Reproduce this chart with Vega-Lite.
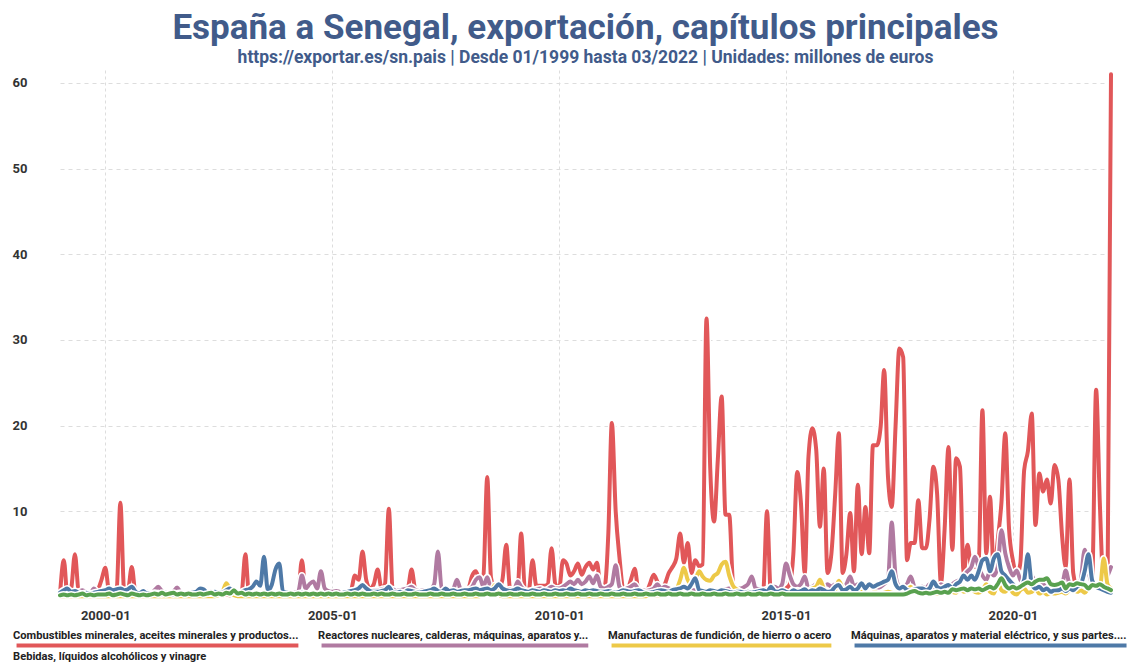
{
"$schema": "https://vega.github.io/schema/vega-lite/v6.json",
"width": 1051,
"height": 527,
"autosize": {"type": "none"},
"padding": {"left": 60, "top": 70, "right": 23, "bottom": 65},
"background": "white",
"title": {
  "text": "España a Senegal, exportación, capítulos principales",
  "subtitle": "https://exportar.es/sn.pais | Desde 01/1999 hasta 03/2022 | Unidades: millones de euros",
  "anchor": "middle",
  "frame": "group",
  "font": "Roboto",
  "fontSize": 35,
  "fontWeight": "bold",
  "color": "#415b8a",
  "subtitleFont": "Roboto",
  "subtitleFontSize": 17.5,
  "subtitleFontWeight": "bold",
  "subtitleColor": "#415b8a",
  "subtitlePadding": 3,
  "offset": 4
},
"data": {"values": [
{"d":"1999-01","r":0.3,"p":0.3,"y":0.1,"b":0.5,"g":0.2},
{"d":"1999-02","r":4.3,"p":0.5,"y":0.1,"b":0.8,"g":0.3},
{"d":"1999-03","r":0.3,"p":0.4,"y":0.1,"b":1.0,"g":0.2},
{"d":"1999-04","r":1.0,"p":0.3,"y":0.1,"b":0.6,"g":0.3},
{"d":"1999-05","r":5.0,"p":0.4,"y":0.1,"b":0.7,"g":0.2},
{"d":"1999-06","r":0.5,"p":0.6,"y":0.1,"b":0.5,"g":0.3},
{"d":"1999-07","r":0.2,"p":0.8,"y":0.1,"b":0.4,"g":0.4},
{"d":"1999-08","r":0.2,"p":0.5,"y":0.1,"b":0.5,"g":0.2},
{"d":"1999-09","r":0.3,"p":0.4,"y":0.1,"b":0.4,"g":0.3},
{"d":"1999-10","r":0.3,"p":1.0,"y":0.1,"b":0.5,"g":0.2},
{"d":"1999-11","r":0.8,"p":0.5,"y":0.1,"b":0.6,"g":0.3},
{"d":"1999-12","r":2.0,"p":0.4,"y":0.1,"b":0.7,"g":0.3},
{"d":"2000-01","r":3.4,"p":0.5,"y":0.1,"b":0.8,"g":0.3},
{"d":"2000-02","r":0.5,"p":0.6,"y":0.1,"b":1.0,"g":0.4},
{"d":"2000-03","r":0.3,"p":0.8,"y":0.1,"b":0.8,"g":0.2},
{"d":"2000-04","r":0.8,"p":0.7,"y":0.1,"b":0.9,"g":0.3},
{"d":"2000-05","r":11.0,"p":0.6,"y":0.1,"b":1.0,"g":0.4},
{"d":"2000-06","r":0.6,"p":0.8,"y":0.1,"b":0.8,"g":0.3},
{"d":"2000-07","r":0.8,"p":0.7,"y":0.1,"b":0.9,"g":0.2},
{"d":"2000-08","r":3.5,"p":0.9,"y":0.1,"b":1.2,"g":0.4},
{"d":"2000-09","r":0.3,"p":0.6,"y":0.1,"b":0.6,"g":0.3},
{"d":"2000-10","r":0.2,"p":0.5,"y":0.1,"b":0.4,"g":0.2},
{"d":"2000-11","r":0.2,"p":0.4,"y":0.1,"b":0.7,"g":0.3},
{"d":"2000-12","r":0.2,"p":0.6,"y":0.1,"b":0.4,"g":0.2},
{"d":"2001-01","r":0.2,"p":0.5,"y":0.1,"b":0.4,"g":0.3},
{"d":"2001-02","r":0.3,"p":0.8,"y":0.1,"b":0.5,"g":0.4},
{"d":"2001-03","r":0.2,"p":1.2,"y":0.1,"b":0.4,"g":0.3},
{"d":"2001-04","r":0.2,"p":0.7,"y":0.1,"b":0.3,"g":0.5},
{"d":"2001-05","r":0.3,"p":0.5,"y":0.1,"b":0.5,"g":0.3},
{"d":"2001-06","r":0.2,"p":0.4,"y":0.1,"b":0.4,"g":0.4},
{"d":"2001-07","r":0.2,"p":0.6,"y":0.1,"b":0.3,"g":0.5},
{"d":"2001-08","r":0.3,"p":1.1,"y":0.1,"b":0.4,"g":0.3},
{"d":"2001-09","r":0.2,"p":0.5,"y":0.1,"b":0.5,"g":0.4},
{"d":"2001-10","r":0.2,"p":0.4,"y":0.1,"b":0.3,"g":0.3},
{"d":"2001-11","r":0.3,"p":0.5,"y":0.1,"b":0.4,"g":0.4},
{"d":"2001-12","r":0.2,"p":0.6,"y":0.1,"b":0.5,"g":0.3},
{"d":"2002-01","r":0.2,"p":0.4,"y":0.1,"b":0.6,"g":0.3},
{"d":"2002-02","r":0.2,"p":0.5,"y":0.1,"b":1.0,"g":0.4},
{"d":"2002-03","r":0.3,"p":0.4,"y":0.1,"b":0.9,"g":0.3},
{"d":"2002-04","r":0.2,"p":0.5,"y":0.1,"b":0.5,"g":0.4},
{"d":"2002-05","r":0.2,"p":0.6,"y":0.1,"b":0.4,"g":0.5},
{"d":"2002-06","r":0.3,"p":0.5,"y":0.1,"b":0.6,"g":0.3},
{"d":"2002-07","r":0.2,"p":0.4,"y":0.2,"b":0.5,"g":0.4},
{"d":"2002-08","r":0.2,"p":0.5,"y":0.6,"b":0.5,"g":0.3},
{"d":"2002-09","r":0.3,"p":0.7,"y":1.6,"b":0.8,"g":0.5},
{"d":"2002-10","r":0.2,"p":0.5,"y":0.8,"b":1.0,"g":0.4},
{"d":"2002-11","r":0.3,"p":0.4,"y":0.2,"b":0.6,"g":0.8},
{"d":"2002-12","r":0.5,"p":0.5,"y":0.1,"b":0.5,"g":0.4},
{"d":"2003-01","r":0.5,"p":0.4,"y":0.1,"b":0.6,"g":0.5},
{"d":"2003-02","r":5.0,"p":0.5,"y":0.1,"b":0.8,"g":0.3},
{"d":"2003-03","r":0.5,"p":0.5,"y":0.1,"b":0.9,"g":0.4},
{"d":"2003-04","r":0.3,"p":0.4,"y":0.1,"b":1.2,"g":0.3},
{"d":"2003-05","r":0.2,"p":0.3,"y":0.1,"b":1.8,"g":0.4},
{"d":"2003-06","r":0.2,"p":0.4,"y":0.1,"b":1.3,"g":0.3},
{"d":"2003-07","r":0.2,"p":0.3,"y":0.1,"b":4.7,"g":0.4},
{"d":"2003-08","r":0.2,"p":0.4,"y":0.1,"b":0.8,"g":0.3},
{"d":"2003-09","r":0.2,"p":0.3,"y":0.1,"b":1.4,"g":0.4},
{"d":"2003-10","r":0.2,"p":0.4,"y":0.1,"b":3.2,"g":0.3},
{"d":"2003-11","r":0.2,"p":0.3,"y":0.1,"b":3.9,"g":0.4},
{"d":"2003-12","r":0.3,"p":0.4,"y":0.1,"b":0.6,"g":0.3},
{"d":"2004-01","r":0.3,"p":0.5,"y":0.1,"b":0.5,"g":0.3},
{"d":"2004-02","r":0.3,"p":0.4,"y":0.1,"b":0.4,"g":0.4},
{"d":"2004-03","r":0.3,"p":0.5,"y":0.1,"b":0.3,"g":0.3},
{"d":"2004-04","r":0.5,"p":0.6,"y":0.1,"b":0.4,"g":0.4},
{"d":"2004-05","r":4.3,"p":2.5,"y":0.1,"b":0.5,"g":0.3},
{"d":"2004-06","r":0.5,"p":1.0,"y":0.1,"b":0.4,"g":0.4},
{"d":"2004-07","r":0.3,"p":1.5,"y":0.1,"b":0.3,"g":0.3},
{"d":"2004-08","r":0.3,"p":1.8,"y":0.1,"b":0.4,"g":0.4},
{"d":"2004-09","r":0.3,"p":1.0,"y":0.1,"b":0.3,"g":0.3},
{"d":"2004-10","r":0.3,"p":3.0,"y":0.1,"b":0.4,"g":0.4},
{"d":"2004-11","r":0.3,"p":1.0,"y":0.1,"b":0.3,"g":0.3},
{"d":"2004-12","r":0.3,"p":0.7,"y":0.1,"b":0.4,"g":0.4},
{"d":"2005-01","r":0.3,"p":0.6,"y":0.1,"b":0.3,"g":0.3},
{"d":"2005-02","r":0.3,"p":0.7,"y":0.1,"b":0.4,"g":0.4},
{"d":"2005-03","r":0.3,"p":0.6,"y":0.1,"b":0.3,"g":0.3},
{"d":"2005-04","r":0.3,"p":0.5,"y":0.1,"b":0.5,"g":0.3},
{"d":"2005-05","r":0.5,"p":0.6,"y":0.1,"b":0.6,"g":0.4},
{"d":"2005-06","r":0.8,"p":0.7,"y":0.1,"b":0.7,"g":0.3},
{"d":"2005-07","r":2.5,"p":0.8,"y":0.1,"b":0.8,"g":0.4},
{"d":"2005-08","r":2.0,"p":0.9,"y":0.1,"b":1.0,"g":0.3},
{"d":"2005-09","r":5.3,"p":1.0,"y":0.1,"b":1.4,"g":0.4},
{"d":"2005-10","r":2.0,"p":0.8,"y":0.1,"b":1.0,"g":0.3},
{"d":"2005-11","r":1.0,"p":0.7,"y":0.1,"b":0.7,"g":0.3},
{"d":"2005-12","r":1.5,"p":0.8,"y":0.1,"b":0.6,"g":0.4},
{"d":"2006-01","r":3.2,"p":0.8,"y":0.1,"b":0.6,"g":0.3},
{"d":"2006-02","r":1.0,"p":0.9,"y":0.1,"b":0.7,"g":0.4},
{"d":"2006-03","r":1.5,"p":1.0,"y":0.1,"b":0.8,"g":0.3},
{"d":"2006-04","r":10.3,"p":0.8,"y":0.1,"b":1.2,"g":0.3},
{"d":"2006-05","r":1.0,"p":0.9,"y":0.1,"b":0.6,"g":0.4},
{"d":"2006-06","r":0.5,"p":0.7,"y":0.1,"b":0.5,"g":0.3},
{"d":"2006-07","r":0.5,"p":0.8,"y":0.1,"b":0.6,"g":0.3},
{"d":"2006-08","r":0.5,"p":0.9,"y":0.1,"b":0.5,"g":0.4},
{"d":"2006-09","r":1.0,"p":1.0,"y":0.1,"b":0.8,"g":0.3},
{"d":"2006-10","r":3.2,"p":1.2,"y":0.1,"b":0.7,"g":0.3},
{"d":"2006-11","r":0.8,"p":0.8,"y":0.1,"b":0.6,"g":0.4},
{"d":"2006-12","r":0.5,"p":0.7,"y":0.1,"b":0.5,"g":0.3},
{"d":"2007-01","r":0.5,"p":0.8,"y":0.1,"b":0.6,"g":0.3},
{"d":"2007-02","r":0.5,"p":0.7,"y":0.1,"b":0.7,"g":0.3},
{"d":"2007-03","r":0.6,"p":0.9,"y":0.1,"b":0.8,"g":0.4},
{"d":"2007-04","r":0.8,"p":1.5,"y":0.1,"b":1.0,"g":0.3},
{"d":"2007-05","r":0.7,"p":5.3,"y":0.1,"b":0.7,"g":0.3},
{"d":"2007-06","r":0.6,"p":1.0,"y":0.1,"b":0.6,"g":0.4},
{"d":"2007-07","r":0.5,"p":0.8,"y":0.1,"b":1.0,"g":0.3},
{"d":"2007-08","r":0.6,"p":0.7,"y":0.1,"b":0.7,"g":0.3},
{"d":"2007-09","r":0.8,"p":0.9,"y":0.1,"b":0.8,"g":0.4},
{"d":"2007-10","r":0.7,"p":2.0,"y":0.1,"b":0.6,"g":0.3},
{"d":"2007-11","r":0.6,"p":0.9,"y":0.1,"b":0.7,"g":0.3},
{"d":"2007-12","r":0.7,"p":0.8,"y":0.1,"b":0.8,"g":0.4},
{"d":"2008-01","r":1.0,"p":0.9,"y":0.1,"b":0.8,"g":0.3},
{"d":"2008-02","r":2.5,"p":1.2,"y":0.1,"b":0.9,"g":0.3},
{"d":"2008-03","r":3.0,"p":2.0,"y":0.1,"b":1.0,"g":0.4},
{"d":"2008-04","r":2.0,"p":2.3,"y":0.1,"b":0.8,"g":0.3},
{"d":"2008-05","r":2.5,"p":1.2,"y":0.2,"b":0.9,"g":0.3},
{"d":"2008-06","r":14.0,"p":2.3,"y":0.5,"b":1.0,"g":0.4},
{"d":"2008-07","r":2.3,"p":1.0,"y":0.6,"b":0.8,"g":0.3},
{"d":"2008-08","r":1.0,"p":0.8,"y":1.4,"b":1.0,"g":0.3},
{"d":"2008-09","r":1.0,"p":0.9,"y":0.3,"b":1.5,"g":0.4},
{"d":"2008-10","r":2.0,"p":1.0,"y":0.1,"b":1.0,"g":0.3},
{"d":"2008-11","r":6.1,"p":0.8,"y":0.1,"b":0.8,"g":0.3},
{"d":"2008-12","r":1.0,"p":0.9,"y":0.1,"b":0.7,"g":0.4},
{"d":"2009-01","r":0.5,"p":0.8,"y":0.1,"b":0.8,"g":0.3},
{"d":"2009-02","r":1.0,"p":1.8,"y":0.1,"b":1.0,"g":0.3},
{"d":"2009-03","r":7.4,"p":1.2,"y":0.1,"b":0.8,"g":0.4},
{"d":"2009-04","r":1.0,"p":0.8,"y":0.1,"b":0.7,"g":0.3},
{"d":"2009-05","r":0.8,"p":0.7,"y":0.1,"b":0.6,"g":0.3},
{"d":"2009-06","r":4.3,"p":0.8,"y":0.1,"b":0.8,"g":0.4},
{"d":"2009-07","r":1.3,"p":0.9,"y":0.1,"b":0.7,"g":0.3},
{"d":"2009-08","r":1.3,"p":1.0,"y":0.1,"b":0.6,"g":0.3},
{"d":"2009-09","r":1.3,"p":0.8,"y":0.1,"b":0.8,"g":0.4},
{"d":"2009-10","r":1.5,"p":0.9,"y":0.1,"b":0.7,"g":0.3},
{"d":"2009-11","r":5.7,"p":1.2,"y":0.1,"b":0.6,"g":0.3},
{"d":"2009-12","r":1.5,"p":1.0,"y":0.1,"b":0.8,"g":0.4},
{"d":"2010-01","r":1.0,"p":1.0,"y":0.1,"b":0.7,"g":0.3},
{"d":"2010-02","r":4.3,"p":1.2,"y":0.1,"b":0.8,"g":0.3},
{"d":"2010-03","r":3.9,"p":1.5,"y":0.1,"b":0.7,"g":0.4},
{"d":"2010-04","r":2.5,"p":1.8,"y":0.1,"b":1.0,"g":0.3},
{"d":"2010-05","r":3.0,"p":1.5,"y":0.1,"b":0.8,"g":0.3},
{"d":"2010-06","r":3.9,"p":2.0,"y":0.1,"b":0.7,"g":0.4},
{"d":"2010-07","r":2.6,"p":1.5,"y":0.1,"b":0.6,"g":0.3},
{"d":"2010-08","r":3.5,"p":1.8,"y":0.1,"b":0.8,"g":0.3},
{"d":"2010-09","r":4.0,"p":2.4,"y":0.1,"b":0.7,"g":0.4},
{"d":"2010-10","r":3.2,"p":1.6,"y":0.1,"b":0.8,"g":0.3},
{"d":"2010-11","r":4.0,"p":2.5,"y":0.1,"b":0.7,"g":0.3},
{"d":"2010-12","r":1.2,"p":1.2,"y":0.1,"b":0.6,"g":0.4},
{"d":"2011-01","r":1.2,"p":1.0,"y":0.1,"b":0.6,"g":0.3},
{"d":"2011-02","r":7.5,"p":1.2,"y":0.1,"b":0.7,"g":0.3},
{"d":"2011-03","r":20.3,"p":1.5,"y":0.1,"b":0.6,"g":0.4},
{"d":"2011-04","r":10.0,"p":3.7,"y":0.1,"b":0.5,"g":0.3},
{"d":"2011-05","r":4.7,"p":1.2,"y":0.1,"b":0.6,"g":0.3},
{"d":"2011-06","r":1.0,"p":0.8,"y":0.1,"b":0.8,"g":0.4},
{"d":"2011-07","r":0.8,"p":1.0,"y":0.1,"b":0.7,"g":0.3},
{"d":"2011-08","r":2.0,"p":1.2,"y":0.1,"b":0.6,"g":0.3},
{"d":"2011-09","r":3.3,"p":1.5,"y":0.1,"b":0.7,"g":0.4},
{"d":"2011-10","r":0.8,"p":0.9,"y":0.1,"b":0.8,"g":0.3},
{"d":"2011-11","r":0.5,"p":0.8,"y":0.1,"b":0.6,"g":0.3},
{"d":"2011-12","r":0.5,"p":0.7,"y":0.1,"b":0.5,"g":0.4},
{"d":"2012-01","r":1.5,"p":0.8,"y":0.3,"b":0.5,"g":0.3},
{"d":"2012-02","r":2.6,"p":1.0,"y":0.2,"b":0.6,"g":0.3},
{"d":"2012-03","r":1.8,"p":1.5,"y":0.2,"b":0.7,"g":0.4},
{"d":"2012-04","r":0.8,"p":1.0,"y":0.2,"b":0.8,"g":0.3},
{"d":"2012-05","r":1.5,"p":1.2,"y":0.3,"b":0.7,"g":0.3},
{"d":"2012-06","r":2.8,"p":1.0,"y":0.3,"b":0.6,"g":0.4},
{"d":"2012-07","r":3.5,"p":0.8,"y":0.4,"b":0.8,"g":0.3},
{"d":"2012-08","r":4.5,"p":0.9,"y":0.8,"b":0.9,"g":0.3},
{"d":"2012-09","r":7.4,"p":1.0,"y":2.0,"b":1.0,"g":0.4},
{"d":"2012-10","r":4.0,"p":1.2,"y":3.4,"b":1.2,"g":0.3},
{"d":"2012-11","r":6.3,"p":1.0,"y":2.0,"b":1.0,"g":0.3},
{"d":"2012-12","r":2.8,"p":0.8,"y":1.5,"b":1.5,"g":0.4},
{"d":"2013-01","r":4.3,"p":0.8,"y":2.0,"b":2.2,"g":0.3},
{"d":"2013-02","r":3.6,"p":0.9,"y":3.0,"b":0.8,"g":0.3},
{"d":"2013-03","r":3.8,"p":0.8,"y":2.4,"b":0.7,"g":0.4},
{"d":"2013-04","r":32.5,"p":0.7,"y":2.0,"b":0.6,"g":0.3},
{"d":"2013-05","r":15.0,"p":0.9,"y":1.9,"b":0.8,"g":0.3},
{"d":"2013-06","r":8.8,"p":0.8,"y":2.5,"b":0.7,"g":0.4},
{"d":"2013-07","r":16.0,"p":0.7,"y":2.8,"b":0.6,"g":0.3},
{"d":"2013-08","r":23.4,"p":0.8,"y":3.8,"b":0.8,"g":0.3},
{"d":"2013-09","r":9.6,"p":0.9,"y":4.1,"b":0.7,"g":0.4},
{"d":"2013-10","r":9.6,"p":1.0,"y":2.5,"b":0.6,"g":0.3},
{"d":"2013-11","r":1.6,"p":1.2,"y":1.3,"b":0.5,"g":0.3},
{"d":"2013-12","r":0.8,"p":1.0,"y":0.9,"b":0.6,"g":0.4},
{"d":"2014-01","r":0.6,"p":1.0,"y":0.6,"b":0.6,"g":0.3},
{"d":"2014-02","r":0.6,"p":1.2,"y":0.5,"b":0.5,"g":0.3},
{"d":"2014-03","r":0.5,"p":1.5,"y":0.4,"b":0.6,"g":0.4},
{"d":"2014-04","r":0.5,"p":2.4,"y":0.3,"b":0.5,"g":0.3},
{"d":"2014-05","r":0.5,"p":1.0,"y":0.3,"b":0.6,"g":0.3},
{"d":"2014-06","r":0.5,"p":0.9,"y":0.4,"b":0.7,"g":0.4},
{"d":"2014-07","r":0.6,"p":0.8,"y":0.5,"b":0.8,"g":0.3},
{"d":"2014-08","r":10.0,"p":0.9,"y":0.4,"b":0.6,"g":0.3},
{"d":"2014-09","r":0.5,"p":1.0,"y":0.3,"b":1.2,"g":0.4},
{"d":"2014-10","r":0.5,"p":1.2,"y":0.4,"b":0.7,"g":0.3},
{"d":"2014-11","r":0.6,"p":1.0,"y":0.3,"b":0.6,"g":0.3},
{"d":"2014-12","r":0.7,"p":1.5,"y":0.4,"b":0.8,"g":0.4},
{"d":"2015-01","r":1.0,"p":3.9,"y":0.5,"b":0.6,"g":0.3},
{"d":"2015-02","r":1.5,"p":2.5,"y":0.4,"b":0.5,"g":0.3},
{"d":"2015-03","r":5.0,"p":1.5,"y":0.5,"b":0.8,"g":0.3},
{"d":"2015-04","r":14.6,"p":1.2,"y":0.8,"b":0.6,"g":0.3},
{"d":"2015-05","r":11.0,"p":1.5,"y":0.6,"b":0.7,"g":0.3},
{"d":"2015-06","r":2.8,"p":2.4,"y":0.5,"b":0.9,"g":0.3},
{"d":"2015-07","r":16.4,"p":1.0,"y":0.7,"b":0.6,"g":0.3},
{"d":"2015-08","r":19.7,"p":1.2,"y":1.0,"b":0.8,"g":0.3},
{"d":"2015-09","r":17.2,"p":1.5,"y":1.2,"b":0.7,"g":0.3},
{"d":"2015-10","r":8.2,"p":1.8,"y":2.0,"b":1.0,"g":0.3},
{"d":"2015-11","r":15.0,"p":1.2,"y":1.0,"b":0.8,"g":0.3},
{"d":"2015-12","r":2.8,"p":1.5,"y":0.6,"b":0.6,"g":0.3},
{"d":"2016-01","r":5.0,"p":1.2,"y":0.5,"b":0.7,"g":0.3},
{"d":"2016-02","r":12.0,"p":1.5,"y":0.8,"b":1.2,"g":0.3},
{"d":"2016-03","r":19.1,"p":1.2,"y":1.9,"b":1.4,"g":0.3},
{"d":"2016-04","r":2.8,"p":1.0,"y":1.0,"b":0.8,"g":0.3},
{"d":"2016-05","r":5.0,"p":1.5,"y":0.5,"b":0.9,"g":0.3},
{"d":"2016-06","r":9.8,"p":2.4,"y":0.6,"b":1.2,"g":0.3},
{"d":"2016-07","r":3.0,"p":1.2,"y":0.4,"b":0.8,"g":0.3},
{"d":"2016-08","r":13.1,"p":1.5,"y":0.5,"b":1.0,"g":0.3},
{"d":"2016-09","r":5.0,"p":1.0,"y":0.6,"b":1.6,"g":0.3},
{"d":"2016-10","r":10.5,"p":1.2,"y":0.5,"b":1.0,"g":0.3},
{"d":"2016-11","r":5.1,"p":1.5,"y":0.4,"b":1.5,"g":0.3},
{"d":"2016-12","r":17.7,"p":1.2,"y":0.5,"b":1.2,"g":0.3},
{"d":"2017-01","r":17.7,"p":1.0,"y":0.5,"b":1.4,"g":0.3},
{"d":"2017-02","r":19.9,"p":1.2,"y":0.4,"b":1.6,"g":0.3},
{"d":"2017-03","r":26.5,"p":1.5,"y":0.5,"b":1.8,"g":0.3},
{"d":"2017-04","r":14.0,"p":2.0,"y":0.6,"b":2.0,"g":0.3},
{"d":"2017-05","r":10.5,"p":8.7,"y":0.5,"b":3.0,"g":0.3},
{"d":"2017-06","r":20.0,"p":2.5,"y":0.4,"b":1.5,"g":0.3},
{"d":"2017-07","r":29.0,"p":1.2,"y":0.5,"b":1.0,"g":0.3},
{"d":"2017-08","r":28.0,"p":1.0,"y":0.6,"b":1.2,"g":0.3},
{"d":"2017-09","r":4.3,"p":1.5,"y":0.8,"b":0.8,"g":0.4},
{"d":"2017-10","r":6.3,"p":2.4,"y":1.2,"b":0.7,"g":0.6},
{"d":"2017-11","r":6.3,"p":1.2,"y":0.6,"b":0.9,"g":0.7},
{"d":"2017-12","r":11.3,"p":1.0,"y":0.5,"b":1.0,"g":0.5},
{"d":"2018-01","r":5.7,"p":1.2,"y":0.6,"b":1.0,"g":0.4},
{"d":"2018-02","r":5.7,"p":1.0,"y":0.5,"b":0.8,"g":0.5},
{"d":"2018-03","r":9.0,"p":1.5,"y":0.6,"b":1.0,"g":0.4},
{"d":"2018-04","r":15.2,"p":1.2,"y":0.5,"b":1.8,"g":0.5},
{"d":"2018-05","r":12.1,"p":1.0,"y":0.4,"b":1.2,"g":0.6},
{"d":"2018-06","r":1.6,"p":1.5,"y":0.6,"b":1.0,"g":0.5},
{"d":"2018-07","r":8.0,"p":1.2,"y":0.5,"b":1.2,"g":0.6},
{"d":"2018-08","r":17.5,"p":1.0,"y":1.0,"b":1.4,"g":0.5},
{"d":"2018-09","r":5.5,"p":1.5,"y":0.6,"b":1.0,"g":0.9},
{"d":"2018-10","r":16.2,"p":1.8,"y":0.5,"b":1.5,"g":0.8},
{"d":"2018-11","r":15.2,"p":2.0,"y":1.2,"b":1.8,"g":0.9},
{"d":"2018-12","r":2.8,"p":2.5,"y":0.6,"b":2.5,"g":1.0},
{"d":"2019-01","r":6.1,"p":3.0,"y":0.8,"b":2.0,"g":0.8},
{"d":"2019-02","r":3.5,"p":3.5,"y":1.0,"b":2.5,"g":1.0},
{"d":"2019-03","r":3.5,"p":4.7,"y":0.6,"b":2.0,"g":0.9},
{"d":"2019-04","r":4.0,"p":3.5,"y":0.5,"b":3.0,"g":1.0},
{"d":"2019-05","r":21.8,"p":2.5,"y":0.8,"b":4.3,"g":0.8},
{"d":"2019-06","r":5.1,"p":2.0,"y":1.5,"b":4.5,"g":1.0},
{"d":"2019-07","r":11.7,"p":3.0,"y":0.6,"b":3.0,"g":1.2},
{"d":"2019-08","r":2.8,"p":2.5,"y":0.4,"b":4.5,"g":1.0},
{"d":"2019-09","r":6.6,"p":3.5,"y":1.7,"b":5.0,"g":1.5},
{"d":"2019-10","r":11.0,"p":7.8,"y":0.8,"b":3.0,"g":2.2},
{"d":"2019-11","r":19.1,"p":5.1,"y":0.6,"b":2.5,"g":1.4},
{"d":"2019-12","r":8.0,"p":3.5,"y":1.2,"b":2.0,"g":1.0},
{"d":"2020-01","r":4.3,"p":2.5,"y":0.5,"b":1.5,"g":1.2},
{"d":"2020-02","r":2.5,"p":3.1,"y":0.3,"b":1.0,"g":1.0},
{"d":"2020-03","r":3.9,"p":2.0,"y":0.8,"b":1.2,"g":1.2},
{"d":"2020-04","r":14.8,"p":1.5,"y":1.0,"b":2.0,"g":1.5},
{"d":"2020-05","r":17.0,"p":2.0,"y":0.5,"b":5.0,"g":1.7},
{"d":"2020-06","r":21.4,"p":2.5,"y":0.6,"b":1.5,"g":1.5},
{"d":"2020-07","r":8.4,"p":1.5,"y":1.0,"b":1.0,"g":1.8},
{"d":"2020-08","r":14.4,"p":1.2,"y":0.4,"b":1.2,"g":2.0},
{"d":"2020-09","r":12.3,"p":1.5,"y":0.6,"b":0.8,"g":2.0},
{"d":"2020-10","r":13.7,"p":1.0,"y":0.3,"b":1.0,"g":2.2},
{"d":"2020-11","r":10.9,"p":1.2,"y":0.5,"b":0.6,"g":1.5},
{"d":"2020-12","r":15.4,"p":1.5,"y":0.4,"b":0.8,"g":1.4},
{"d":"2021-01","r":13.7,"p":1.2,"y":0.5,"b":0.8,"g":1.5},
{"d":"2021-02","r":7.0,"p":1.5,"y":0.6,"b":1.0,"g":1.7},
{"d":"2021-03","r":3.5,"p":3.1,"y":0.4,"b":0.7,"g":1.0},
{"d":"2021-04","r":13.7,"p":1.5,"y":0.8,"b":1.0,"g":1.5},
{"d":"2021-05","r":2.8,"p":1.2,"y":1.0,"b":0.8,"g":1.4},
{"d":"2021-06","r":1.2,"p":1.0,"y":0.6,"b":1.2,"g":1.6},
{"d":"2021-07","r":1.2,"p":2.0,"y":0.8,"b":1.5,"g":1.5},
{"d":"2021-08","r":1.2,"p":5.5,"y":0.5,"b":3.0,"g":1.4},
{"d":"2021-09","r":1.0,"p":3.0,"y":1.0,"b":5.0,"g":1.0},
{"d":"2021-10","r":2.0,"p":1.5,"y":1.5,"b":1.9,"g":1.4},
{"d":"2021-11","r":24.2,"p":1.2,"y":1.2,"b":1.2,"g":1.3},
{"d":"2021-12","r":11.0,"p":1.5,"y":1.0,"b":1.0,"g":1.5},
{"d":"2022-01","r":1.0,"p":2.0,"y":4.5,"b":0.8,"g":1.2},
{"d":"2022-02","r":0.5,"p":2.5,"y":1.5,"b":0.6,"g":1.0},
{"d":"2022-03","r":61.0,"p":3.5,"y":1.0,"b":0.5,"g":0.8}
]},
"transform": [{"fold": ["r", "p", "y", "b", "g"], "as": ["s", "v"]}],
"encoding": {
  "x": {
    "field": "d", "type": "temporal",
    "scale": {"type": "utc"},
    "axis": {
      "title": null, "format": "%Y-%m", "tickCount": {"interval": "year", "step": 5},
      "domain": false, "ticks": false, "tickSize": 0, "labelPadding": 12,
      "labelFont": "Roboto", "labelFontSize": 13, "labelFontWeight": "bold", "labelColor": "#333333",
      "grid": true, "gridDash": [3, 3], "gridColor": "#dddddd", "gridWidth": 1
    }
  },
  "y": {
    "field": "v", "type": "quantitative",
    "scale": {"domain": [0, 61.5], "nice": false},
    "axis": {
      "title": null, "values": [10, 20, 30, 40, 50, 60],
      "domain": false, "ticks": false, "tickSize": 0, "labelPadding": 48, "labelAlign": "left",
      "labelFont": "Roboto", "labelFontSize": 13, "labelFontWeight": "bold", "labelColor": "#333333",
      "grid": true, "gridDash": [4, 4], "gridColor": "#dddddd", "gridWidth": 1
    }
  }
},
"layer": [
  {"transform": [{"filter": "datum.s === 'r'"}], "mark": {"type": "line", "interpolate": "monotone", "stroke": "white", "strokeWidth": 7, "strokeJoin": "round", "strokeCap": "round"}},
  {"transform": [{"filter": "datum.s === 'r'"}], "mark": {"type": "line", "interpolate": "monotone", "strokeWidth": 4, "strokeJoin": "round", "strokeCap": "round"},
   "encoding": {"color": {"field": "s", "type": "nominal",
     "scale": {"domain": ["r", "p", "y", "b", "g"], "range": ["#e15759", "#b07aa1", "#edc948", "#4e79a7", "#59a14f"]},
     "legend": {
       "orient": "none", "legendX": -48, "legendY": 558, "direction": "horizontal", "columns": 4, "title": null,
       "symbolType": "M-1,7H200", "symbolSize": 4, "symbolStrokeWidth": 4,
       "labelFont": "Roboto", "labelFontSize": 11.1, "labelFontWeight": "bold", "labelColor": "#222222",
       "labelBaseline": "alphabetic",
       "labelLimit": 320, "labelOffset": -10, "columnPadding": 18, "rowPadding": 0, "clipHeight": 21,
       "labelExpr": "datum.value === 'r' ? 'Combustibles minerales, aceites minerales y productos...' : datum.value === 'p' ? 'Reactores nucleares, calderas, máquinas, aparatos y...' : datum.value === 'y' ? 'Manufacturas de fundición, de hierro o acero' : datum.value === 'b' ? 'Máquinas, aparatos y material eléctrico, y sus partes....' : 'Bebidas, líquidos alcohólicos y vinagre'",
       "encode": {"symbols": {"update": {"shape": {"signal": "datum.value === 'r' ? 'M-1,7H290' : datum.value === 'p' ? 'M-1,7H276' : datum.value === 'y' ? 'M-1,7H226' : datum.value === 'b' ? 'M-1,7H274' : 'M-1,7H180'"}}}}
     }}}},
  {"transform": [{"filter": "datum.s === 'p'"}], "mark": {"type": "line", "interpolate": "monotone", "stroke": "white", "strokeWidth": 7, "strokeJoin": "round", "strokeCap": "round"}},
  {"transform": [{"filter": "datum.s === 'p'"}], "mark": {"type": "line", "interpolate": "monotone", "strokeWidth": 4, "strokeJoin": "round", "strokeCap": "round"},
   "encoding": {"color": {"field": "s", "type": "nominal"}}},
  {"transform": [{"filter": "datum.s === 'y'"}], "mark": {"type": "line", "interpolate": "monotone", "stroke": "white", "strokeWidth": 7, "strokeJoin": "round", "strokeCap": "round"}},
  {"transform": [{"filter": "datum.s === 'y'"}], "mark": {"type": "line", "interpolate": "monotone", "strokeWidth": 4, "strokeJoin": "round", "strokeCap": "round"},
   "encoding": {"color": {"field": "s", "type": "nominal"}}},
  {"transform": [{"filter": "datum.s === 'b'"}], "mark": {"type": "line", "interpolate": "monotone", "stroke": "white", "strokeWidth": 7, "strokeJoin": "round", "strokeCap": "round"}},
  {"transform": [{"filter": "datum.s === 'b'"}], "mark": {"type": "line", "interpolate": "monotone", "strokeWidth": 4, "strokeJoin": "round", "strokeCap": "round"},
   "encoding": {"color": {"field": "s", "type": "nominal"}}},
  {"transform": [{"filter": "datum.s === 'g'"}], "mark": {"type": "line", "interpolate": "monotone", "stroke": "white", "strokeWidth": 7, "strokeJoin": "round", "strokeCap": "round"}},
  {"transform": [{"filter": "datum.s === 'g'"}], "mark": {"type": "line", "interpolate": "monotone", "strokeWidth": 4, "strokeJoin": "round", "strokeCap": "round"},
   "encoding": {"color": {"field": "s", "type": "nominal"}}}
],
"config": {"view": {"stroke": null}}
}
